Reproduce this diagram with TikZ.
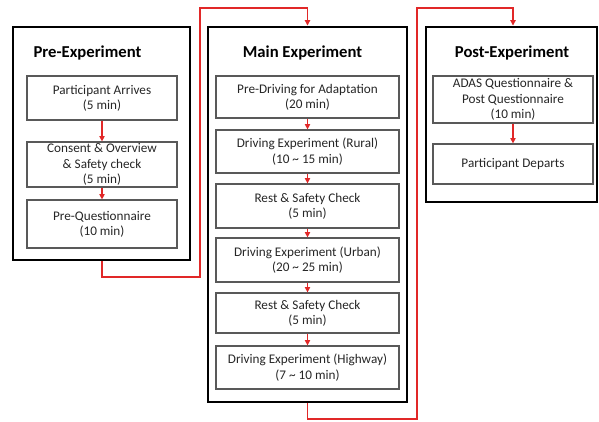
\documentclass[tikz,border=0pt]{standalone}
\usepackage{fontspec}
\setmainfont{Carlito}
\usetikzlibrary{arrows.meta}
\definecolor{flow}{RGB}{225,40,40}
\begin{document}
\begin{tikzpicture}[x=0.75pt,y=-0.75pt,
  stage/.style={draw=black,line width=2.2pt},
  item/.style={draw=black!65,line width=0.9pt,align=center,font=\fontsize{9.9}{11.4}\selectfont,inner sep=0pt,text=black!85},
  title/.style={font=\fontsize{12.5}{14}\selectfont\bfseries},
  flowline/.style={draw=flow,line width=0.8pt,-{Triangle[width=4pt,length=4pt]}}]
\useasboundingbox (0,0) rectangle (599,421);
% stage frames
\node[stage,minimum width=177*0.75pt,minimum height=233*0.75pt,inner sep=0pt] (pre) at (101.5,143.5) {};
\node[stage,minimum width=199*0.75pt,minimum height=375*0.75pt,inner sep=0pt] (main) at (307.5,214.5) {};
\node[stage,minimum width=171*0.75pt,minimum height=175*0.75pt,inner sep=0pt] (post) at (511.5,114.5) {};
% titles
\node[title] (tpre) at (87.5,53) {Pre-Experiment};
\node[title] (tmain) at (302.5,53) {Main Experiment};
\node[title] (tpost) at (512,53) {Post-Experiment};
% pre items
\node[item,minimum width=150*0.75pt,minimum height=44*0.75pt] (p1) at (102,98) {Participant Arrives\\(5 min)};
\node[item,minimum width=150*0.75pt,minimum height=45*0.75pt] (p2) at (102,164.5) {Consent \& Overview\\\& Safety check\\(5 min)};
\node[item,minimum width=150*0.75pt,minimum height=48*0.75pt] (p3) at (102,224) {Pre-Questionnaire\\(10 min)};
% main items
\node[item,minimum width=183*0.75pt,minimum height=42*0.75pt] (m1) at (307.5,97) {Pre-Driving for Adaptation\\(20 min)};
\node[item,minimum width=183*0.75pt,minimum height=43*0.75pt] (m2) at (307.5,151.5) {Driving Experiment (Rural)\\(10 \textasciitilde{} 15 min)};
\node[item,minimum width=183*0.75pt,minimum height=44*0.75pt] (m3) at (307.5,206) {Rest \& Safety Check\\(5 min)};
\node[item,minimum width=183*0.75pt,minimum height=44*0.75pt] (m4) at (307.5,260) {Driving Experiment (Urban)\\(20 \textasciitilde{} 25 min)};
\node[item,minimum width=183*0.75pt,minimum height=40*0.75pt] (m5) at (307.5,313) {Rest \& Safety Check\\(5 min)};
\node[item,minimum width=183*0.75pt,minimum height=43*0.75pt] (m6) at (307.5,367.5) {Driving Experiment (Highway)\\(7 \textasciitilde{} 10 min)};
% post items
\node[item,minimum width=160*0.75pt,minimum height=47*0.75pt] (q1) at (513,99.5) {ADAS Questionnaire \&\\Post Questionnaire\\(10 min)};
\node[item,minimum width=160*0.75pt,minimum height=40*0.75pt] (q2) at (513,164) {Participant Departs};
% arrows within stages
\draw[flowline] (p1) -- (p2);
\draw[flowline] (p2) -- (p3);
\draw[flowline] (m1) -- (m2);
\draw[flowline] (m2) -- (m3);
\draw[flowline] (m3) -- (m4);
\draw[flowline] (m4) -- (m5);
\draw[flowline] (m5) -- (m6);
\draw[flowline] (q1) -- (q2);
% connectors between stages
\coordinate (a1) at (102,277);
\coordinate (a2) at (200,277);
\coordinate (a3) at (200,8);
\coordinate (a4) at (307.5,8);
\draw[flowline] (pre.south -| a1) -- (a1) -- (a2) -- (a3) -- (a4) -- (main.north -| a4);
\coordinate (b1) at (307.5,419);
\coordinate (b2) at (417,419);
\coordinate (b3) at (417,8);
\coordinate (b4) at (513,8);
\draw[flowline] (main.south -| b1) -- (b1) -- (b2) -- (b3) -- (b4) -- (post.north -| b4);
\end{tikzpicture}
\end{document}
